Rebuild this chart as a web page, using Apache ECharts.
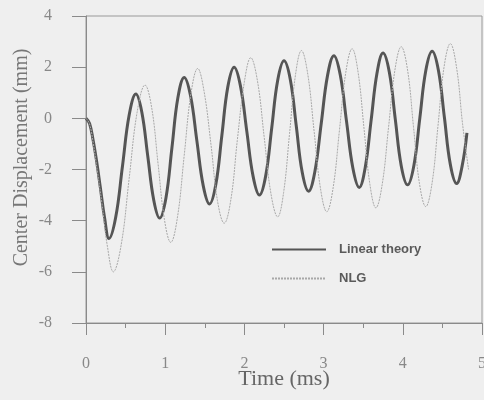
<!DOCTYPE html>
<html>
<head>
<meta charset="utf-8">
<script src="https://cdn.jsdelivr.net/npm/echarts@6/dist/echarts.min.js"></script>
<style>
  html, body { margin: 0; padding: 0; background: #efefef; }
  #chart { width: 484px; height: 400px; }
</style>
</head>
<body>
<div id="chart"></div>
<script>
// time (ms) and center displacement (mm)
var linearTime = [0, 0.045, 0.09, 0.135, 0.18, 0.235, 0.29,
    0.375, 0.46, 0.545, 0.63, 0.705, 0.78, 0.855, 0.93,
    1.01, 1.085, 1.16, 1.24, 1.32, 1.40, 1.48, 1.56,
    1.64, 1.715, 1.79, 1.87, 1.95, 2.03, 2.11, 2.19,
    2.27, 2.345, 2.42, 2.50, 2.58, 2.655, 2.73, 2.81,
    2.89, 2.97, 3.05, 3.13, 3.21, 3.29, 3.37, 3.45,
    3.525, 3.60, 3.675, 3.75, 3.83, 3.905, 3.98, 4.06,
    4.14, 4.215, 4.29, 4.37, 4.45, 4.525, 4.60, 4.68,
    4.75, 4.81];
var linearDisp = [0, -0.2, -0.86, -1.7, -2.68, -3.9, -4.7,
    -3.87, -1.88, 0.13, 0.95, 0.24, -1.48, -3.19, -3.9,
    -3.10, -1.15, 0.80, 1.6, 0.88, -0.88, -2.63, -3.35,
    -2.57, -0.68, 1.22, 2.0, 1.27, -0.5, -2.27, -3.0,
    -2.23, -0.38, 1.48, 2.25, 1.51, -0.3, -2.11, -2.85,
    -2.08, -0.2, 1.68, 2.45, 1.70, -0.13, -1.95, -2.7,
    -1.93, -0.08, 1.78, 2.55, 1.80, -0.03, -1.85, -2.6,
    -1.84, 0.01, 1.86, 2.62, 1.87, 0.04, -1.80, -2.55,
    -1.85, -0.57];

var nlgTime = [0, 0.045, 0.09, 0.145, 0.2, 0.27, 0.345,
    0.445, 0.545, 0.645, 0.745, 0.83, 0.91, 0.99, 1.07,
    1.155, 1.24, 1.325, 1.41, 1.49, 1.58, 1.66, 1.745,
    1.83, 1.91, 2.0, 2.08, 2.165, 2.25, 2.335, 2.42,
    2.495, 2.57, 2.645, 2.72, 2.80, 2.88, 2.96, 3.04,
    3.12, 3.20, 3.28, 3.36, 3.435, 3.51, 3.585, 3.66,
    3.74, 3.82, 3.90, 3.98, 4.06, 4.135, 4.21, 4.29,
    4.37, 4.445, 4.52, 4.60, 4.68, 4.755, 4.83];
var nlgDisp = [0, -0.22, -0.95, -2.1, -3.3, -5.0, -6.0,
    -4.93, -2.35, 0.23, 1.3, 0.40, -1.78, -3.95, -4.85,
    -3.86, -1.45, 0.96, 1.95, 1.07, -1.08, -3.22, -4.1,
    -3.16, -0.87, 1.43, 2.37, 1.46, -0.74, -2.94, -3.85,
    -2.90, -0.6, 1.70, 2.65, 1.73, -0.5, -2.73, -3.65,
    -2.72, -0.47, 1.79, 2.72, 1.81, -0.39, -2.59, -3.5,
    -2.58, -0.35, 1.88, 2.8, 1.89, -0.33, -2.54, -3.45,
    -2.52, -0.27, 1.99, 2.92, 1.96, -0.23, -2.0];

var xTicks = [0, 1, 2, 3, 4, 5];
var yTicks = [-8, -6, -4, -2, 0, 2, 4];

function pairs(xs, ys) {
    return xs.map(function (x, i) { return [x, ys[i]]; });
}

var chart = echarts.init(document.getElementById('chart'));

var serifFont = '"Liberation Serif", "DejaVu Serif", serif';

var option = {
    animation: false,
    backgroundColor: '#efefef',
    grid: {
        left: 86,
        right: 2,
        top: 16,
        bottom: 77,
        outerBoundsMode: 'none',
        containLabel: false,
        show: true,
        borderColor: '#999',
        borderWidth: 1
    },
    legend: {
        orient: 'vertical',
        left: 266,
        top: 238,
        itemWidth: 54,
        itemHeight: 14,
        itemGap: 16,
        itemStyle: { opacity: 0 },
        textStyle: {
            fontFamily: '"Liberation Sans", Arial, sans-serif',
            fontWeight: 'bold',
            fontSize: 13,
            color: '#5a5a5a',
            padding: [0, 0, 0, 8]
        },
        data: ['Linear theory', 'NLG']
    },
    xAxis: {
        type: 'value',
        min: xTicks[0],
        max: xTicks[xTicks.length - 1],
        interval: 1,
        name: 'Time (ms)',
        nameLocation: 'middle',
        nameGap: 45,
        nameMoveOverlap: false,
        nameTextStyle: {
            fontFamily: serifFont,
            fontSize: 22,
            color: '#666'
        },
        axisLine: { onZero: false, lineStyle: { color: '#8a8a8a', width: 1 } },
        axisTick: { length: 12, lineStyle: { color: '#8a8a8a' } },
        minorTick: { show: true, splitNumber: 2, length: 5, lineStyle: { color: '#8a8a8a' } },
        splitLine: { show: false },
        axisLabel: {
            margin: 33,
            fontFamily: serifFont,
            fontSize: 16,
            color: '#888'
        }
    },
    yAxis: {
        type: 'value',
        min: yTicks[0],
        max: yTicks[yTicks.length - 1],
        interval: 2,
        name: 'Center Displacement (mm)',
        nameLocation: 'middle',
        nameGap: 54,
        nameMoveOverlap: false,
        nameTextStyle: {
            fontFamily: serifFont,
            fontSize: 20,
            color: '#777',
            padding: [0, 0, 0, 24]
        },
        axisLine: { show: true, onZero: false, lineStyle: { color: '#8a8a8a', width: 1 } },
        axisTick: { length: 14, lineStyle: { color: '#8a8a8a' } },
        splitLine: { show: false },
        axisLabel: {
            margin: 34,
            fontFamily: serifFont,
            fontSize: 16,
            color: '#888'
        }
    },
    series: [
        {
            name: 'Linear theory',
            type: 'line',
            data: pairs(linearTime, linearDisp),
            smooth: 0.4,
            showSymbol: false,
            symbol: 'none',
            color: '#555',
            lineStyle: { color: '#555', width: 3 }
        },
        {
            name: 'NLG',
            type: 'line',
            data: pairs(nlgTime, nlgDisp),
            smooth: 0.4,
            showSymbol: false,
            symbol: 'none',
            color: '#aaa',
            lineStyle: { color: '#a8a8a8', width: 1, type: [2, 1] }
        }
    ]
};

chart.setOption(option);
</script>
</body>
</html>
